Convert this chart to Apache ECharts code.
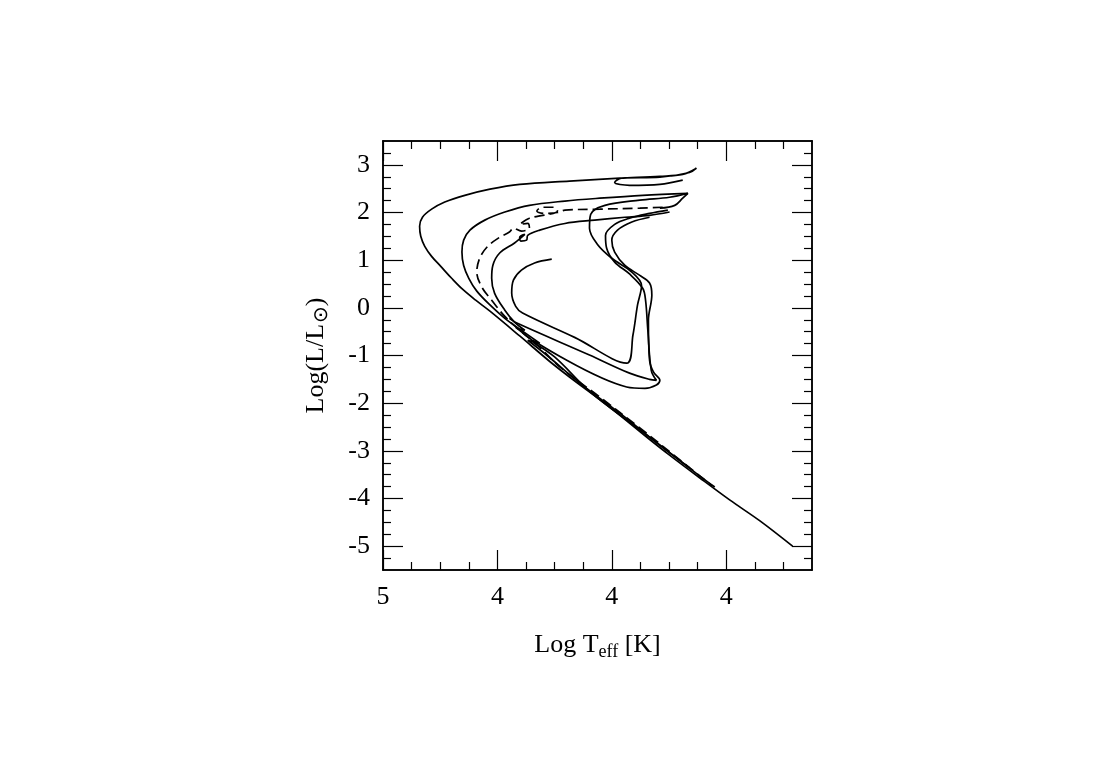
<!DOCTYPE html>
<html>
<head>
<meta charset="utf-8">
<script src="https://cdn.jsdelivr.net/npm/echarts@6/dist/echarts.min.js"></script>
<style>
  html, body { margin: 0; padding: 0; background: #fff; }
  #chart { width: 1107px; height: 769px; }
</style>
</head>
<body>
<div id="chart"></div>
<script>
// axis ticks (log Teff runs right to left)
var xTicks = [5.0, 4.8, 4.6, 4.4];
var xTickLabels = ['5', '4', '4', '4'];
var xMinorTicks = [4.95, 4.9, 4.85, 4.75, 4.7, 4.65, 4.55, 4.5, 4.45, 4.35, 4.3];
var yTicks = [-5, -4, -3, -2, -1, 0, 1, 2, 3];
var yTickLabels = ['-5', '-4', '-3', '-2', '-1', '0', '1', '2', '3'];
var yMinorTicks = [-5.25, -4.75, -4.5, -4.25, -3.75, -3.5, -3.25, -2.75, -2.5, -2.25,
  -1.75, -1.5, -1.25, -0.75, -0.5, -0.25, 0.25, 0.5, 0.75, 1.25, 1.5, 1.75,
  2.25, 2.5, 2.75, 3.25];

// tracks: [log Teff, log L/Lsun]
var trackOuter = [[4.476, 2.68], [4.516, 2.59], [4.569, 2.57], [4.595, 2.63], [4.583, 2.72],
  [4.516, 2.74], [4.464, 2.84], [4.452, 2.93], [4.476, 2.80], [4.516, 2.76], [4.586, 2.72],
  [4.674, 2.66], [4.761, 2.59], [4.813, 2.49], [4.857, 2.36], [4.892, 2.22], [4.915, 2.07],
  [4.931, 1.90], [4.936, 1.71], [4.934, 1.50], [4.927, 1.29], [4.915, 1.08], [4.899, 0.87],
  [4.880, 0.62], [4.861, 0.39], [4.838, 0.16], [4.813, -0.07], [4.761, -0.59], [4.709, -1.12],
  [4.674, -1.45], [4.604, -2.08], [4.537, -2.73], [4.499, -3.09], [4.446, -3.57],
  [4.394, -4.03], [4.341, -4.47], [4.284, -5.00]];

var trackSecond = [[4.516, 2.09], [4.490, 2.15], [4.476, 2.30], [4.467, 2.40], [4.546, 2.36],
  [4.621, 2.30], [4.682, 2.24], [4.744, 2.15], [4.787, 2.01], [4.822, 1.84], [4.848, 1.63],
  [4.859, 1.42], [4.862, 1.17], [4.859, 0.89], [4.850, 0.62], [4.836, 0.35], [4.813, 0.06],
  [4.787, -0.22], [4.758, -0.47], [4.768, -0.41], [4.735, -0.72], [4.747, -0.68],
  [4.712, -1.01], [4.656, -1.58], [4.586, -2.21], [4.516, -2.88], [4.446, -3.53], [4.420, -3.76]];

var trackDashed = [[4.511, 2.11], [4.551, 2.09], [4.621, 2.07], [4.682, 2.05], [4.695, 2.00],
  [4.717, 1.98], [4.731, 2.03], [4.722, 2.11], [4.700, 2.11], [4.695, 2.03], [4.744, 1.88],
  [4.761, 1.75], [4.747, 1.77], [4.744, 1.67], [4.758, 1.61], [4.772, 1.67], [4.779, 1.59],
  [4.796, 1.48], [4.817, 1.29], [4.831, 1.04], [4.836, 0.75], [4.827, 0.43], [4.810, 0.16],
  [4.787, -0.18], [4.761, -0.47], [4.726, -0.83], [4.691, -1.24], [4.621, -1.87],
  [4.551, -2.52], [4.481, -3.19], [4.424, -3.74]];

var trackThird = [[4.499, 2.01], [4.534, 1.94], [4.577, 1.90], [4.630, 1.84], [4.682, 1.77],
  [4.726, 1.63], [4.747, 1.52], [4.749, 1.42], [4.759, 1.40], [4.761, 1.48], [4.752, 1.54],
  [4.770, 1.36], [4.796, 1.15], [4.808, 0.89], [4.810, 0.62], [4.805, 0.31], [4.787, -0.05],
  [4.770, -0.30], [4.752, -0.47], [4.761, -0.45], [4.726, -0.74], [4.738, -0.72],
  [4.700, -1.03], [4.639, -1.75], [4.551, -2.56], [4.464, -3.36]];

var trackInner = [[4.705, 1.02], [4.735, 0.94], [4.758, 0.79], [4.772, 0.58], [4.775, 0.31],
  [4.768, 0.03], [4.756, -0.11], [4.665, -0.62], [4.574, -1.16], [4.563, -0.57], [4.555, 0.06],
  [4.548, 0.47], [4.565, 0.75], [4.600, 1.04], [4.625, 1.33], [4.639, 1.67], [4.637, 1.96],
  [4.612, 2.15], [4.551, 2.26], [4.499, 2.32], [4.467, 2.40]];

var trackLoopA = [[4.779, -0.22], [4.766, -0.32], [4.639, -0.99], [4.569, -1.37], [4.534, -1.50],
  [4.522, -1.52], [4.531, -1.31], [4.537, -0.47], [4.541, 0.16], [4.546, 0.41], [4.569, 0.71],
  [4.595, 0.96], [4.609, 1.25], [4.611, 1.52], [4.595, 1.75], [4.569, 1.88], [4.534, 1.98],
  [4.502, 2.05]];

var trackLoopB = [[4.738, -0.68], [4.574, -1.66], [4.542, -1.69], [4.522, -1.62], [4.516, -1.52],
  [4.527, -1.35], [4.534, -1.10], [4.536, -0.26], [4.530, 0.27], [4.534, 0.52], [4.551, 0.68],
  [4.577, 0.89], [4.595, 1.17], [4.600, 1.42], [4.590, 1.63], [4.565, 1.80], [4.534, 1.90]];

var serif = 'Liberation Serif';

function xAxisDef(position, values, len, labels) {
  var ax = {
    type: 'value', position: position, min: 4.25, max: 5.0, inverse: true,
    axisLine: { show: true, onZero: false, lineStyle: { color: '#000', width: 1.5 } },
    axisTick: { show: true, inside: true, length: len, customValues: values,
      lineStyle: { color: '#000', width: 1.2 } },
    axisLabel: { show: false, customValues: values },
    splitLine: { show: false }
  };
  if (labels) {
    ax.axisLabel = {
      show: true, customValues: values, margin: 14,
      fontFamily: serif, fontSize: 26, color: '#000',
      formatter: function (v) {
        for (var i = 0; i < xTicks.length; i++) {
          if (Math.abs(xTicks[i] - v) < 1e-6) return xTickLabels[i];
        }
        return '';
      }
    };
    ax.name = '{a|Log T}{s|eff}{a| [K]}';
    ax.nameLocation = 'middle';
    ax.nameGap = 60;
    ax.nameTextStyle = {
      rich: {
        a: { fontFamily: serif, fontSize: 26, color: '#000', lineHeight: 30 },
        s: { fontFamily: serif, fontSize: 18, color: '#000', lineHeight: 30, padding: [14, 0, 0, 0] }
      }
    };
  }
  return ax;
}

function yAxisDef(position, values, len, labels) {
  var ax = {
    type: 'value', position: position, min: -5.5, max: 3.5,
    axisLine: { show: true, onZero: false, lineStyle: { color: '#000', width: 1.5 } },
    axisTick: { show: true, inside: true, length: len, customValues: values,
      lineStyle: { color: '#000', width: 1.2 } },
    axisLabel: { show: false, customValues: values },
    splitLine: { show: false }
  };
  if (labels) {
    ax.axisLabel = {
      show: true, customValues: values, margin: 13,
      fontFamily: serif, fontSize: 26, color: '#000',
      formatter: function (v) {
        for (var i = 0; i < yTicks.length; i++) {
          if (Math.abs(yTicks[i] - v) < 1e-6) return yTickLabels[i];
        }
        return '';
      }
    };
    ax.name = '{a|Log(L/L}{s|\u2299}{a|)}';
    ax.nameLocation = 'middle';
    ax.nameGap = 52;
    ax.nameTextStyle = {
      rich: {
        a: { fontFamily: serif, fontSize: 26, color: '#000', lineHeight: 30 },
        s: { fontFamily: 'DejaVu Sans', fontSize: 20, color: '#000', lineHeight: 30, padding: [12, 0, 0, 1] }
      }
    };
  }
  return ax;
}

function track(data, dashed) {
  return {
    type: 'line', data: data, xAxisIndex: 0, yAxisIndex: 0,
    showSymbol: false, smooth: 0.35, silent: true,
    lineStyle: { color: '#000', width: 1.7, type: dashed ? [10, 5] : 'solid' }
  };
}

var chart = echarts.init(document.getElementById('chart'));
chart.setOption({
  animation: false,
  backgroundColor: '#fff',
  grid: { left: 383, top: 141, width: 429, height: 429 },
  xAxis: [
    xAxisDef('bottom', xTicks, 20, true),
    xAxisDef('bottom', xMinorTicks, 8, false),
    xAxisDef('top', xTicks, 20, false),
    xAxisDef('top', xMinorTicks, 8, false)
  ],
  yAxis: [
    yAxisDef('left', yTicks, 20, true),
    yAxisDef('left', yMinorTicks, 8, false),
    yAxisDef('right', yTicks, 20, false),
    yAxisDef('right', yMinorTicks, 8, false)
  ],
  series: [
    track(trackOuter, false),
    track(trackSecond, false),
    track(trackDashed, true),
    track(trackThird, false),
    track(trackInner, false),
    track(trackLoopA, false),
    track(trackLoopB, false)
  ]
});

window.addEventListener('resize', chart.resize);
</script>
</body>
</html>
